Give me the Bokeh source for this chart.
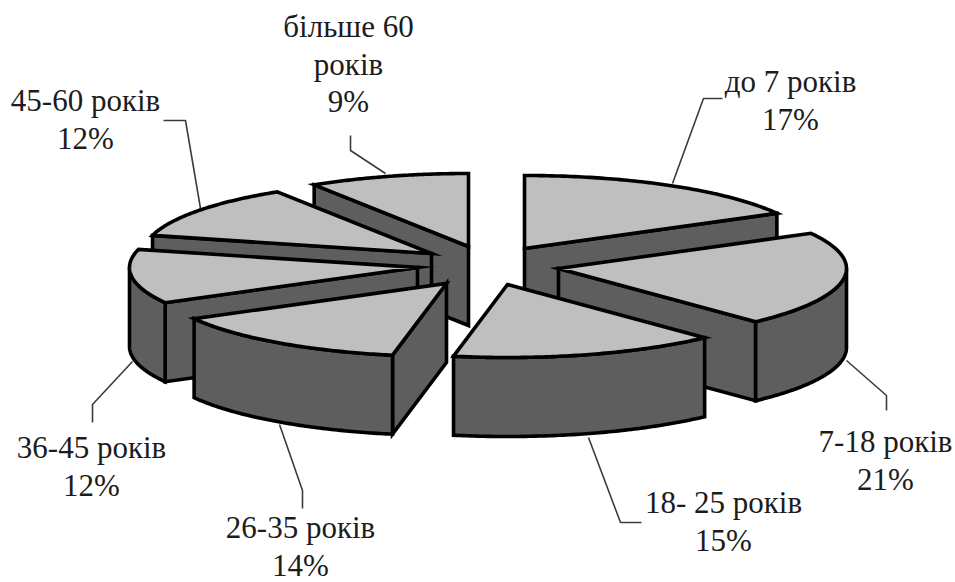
import numpy as np
from bokeh.core.properties import value
from bokeh.embed import file_html
from bokeh.models import Range1d
from bokeh.plotting import figure
from bokeh.resources import INLINE

# Share of each age group, clockwise from twelve o'clock
categories = ["до 7 років", "7-18 років", "18- 25 років", "26-35 років",
              "36-45 років", "45-60 років", "більше 60 років"]
shares = [17, 21, 15, 14, 12, 12, 9]

# Label text, one entry per line of each label
label_lines = [["до 7 років", "17%"], ["7-18 років", "21%"], ["18- 25 років", "15%"],
               ["26-35 років", "14%"], ["36-45 років", "12%"], ["45-60 років", "12%"],
               ["більше 60", "років", "9%"]]

# Layout: pulled-out tip of every wedge on the canvas
tips = [(524, 248), (558, 268), (507, 284), (446, 283), (417, 267), (431, 253), (468, 246)]
label_x = [790, 885, 723, 300, 91, 85, 348]
label_y = [81, 441, 502, 527, 447, 100, 26]
leaders = [[(672, 183), (703, 98), (722, 98)],
           [(846, 360), (886, 395), (886, 410)],
           [(588, 437), (620, 522), (641, 522)],
           [(279, 424), (302, 490), (302, 508)],
           [(132, 361), (92, 404), (92, 422)],
           [(200, 208), (185, 120), (163, 120)],
           [(385, 173), (350, 150), (350, 135)]]

RX, RY, DEPTH = 288, 73, 79
TOP, WALL, EDGE = "#bfbfbf", "#5e5e5e", "#000000"
PAINT_ORDER = [6, 5, 0, 4, 1, 3, 2]

p = figure(width=955, height=582, x_range=Range1d(0, 955), y_range=Range1d(582, 0),
           output_backend="svg", toolbar_location=None, min_border=0,
           background_fill_color="white", border_fill_color="white", outline_line_color=None)
p.axis.visible = False
p.grid.visible = False

edges = np.cumsum([0] + shares) / sum(shares) * 2 * np.pi


def rim(tip, a0, a1):
    angles = np.linspace(a0, a1, 80)
    return tip[0] + RX * np.sin(angles), tip[1] - RY * np.cos(angles)


def shape(xs, ys, color):
    p.patch(list(xs), list(ys), fill_color=color, line_color=EDGE, line_width=3.6,
            line_join="miter")


for i in PAINT_ORDER:
    tip = tips[i]
    a0, a1 = edges[i], edges[i + 1]
    rx, ry = rim(tip, a0, a1)

    # Straight cut faces that look toward the viewer
    for (ex, ey), sign in (((rx[0], ry[0]), -1), ((rx[-1], ry[-1]), 1)):
        dx, dy = ex - tip[0], ey - tip[1]
        if sign * dx > 0:
            shape([tip[0], ex, ex, tip[0]], [tip[1], ey, ey + DEPTH, tip[1] + DEPTH], WALL)

    # Curved outer face on the near half of the ellipse
    w0, w1 = max(a0, np.pi / 2), min(a1, 3 * np.pi / 2)
    if w0 < w1:
        wx, wy = rim(tip, w0, w1)
        shape(np.r_[wx, wx[::-1]], np.r_[wy, wy[::-1] + DEPTH], WALL)

    # Top face
    shape(np.r_[tip[0], rx], np.r_[tip[1], ry], TOP)

for path in leaders:
    p.line([q[0] for q in path], [q[1] for q in path], line_color="#3c3c3c", line_width=1.6)

for lines, x, y in zip(label_lines, label_x, label_y):
    p.text([x] * len(lines), [y + k * 37.5 for k in range(len(lines))], text=lines,
           text_font=value("Liberation Serif"), text_font_size="31px", text_color="#1c1c1c",
           text_align="center", text_baseline="middle")

open("out.html", "w").write(file_html(p, INLINE))
